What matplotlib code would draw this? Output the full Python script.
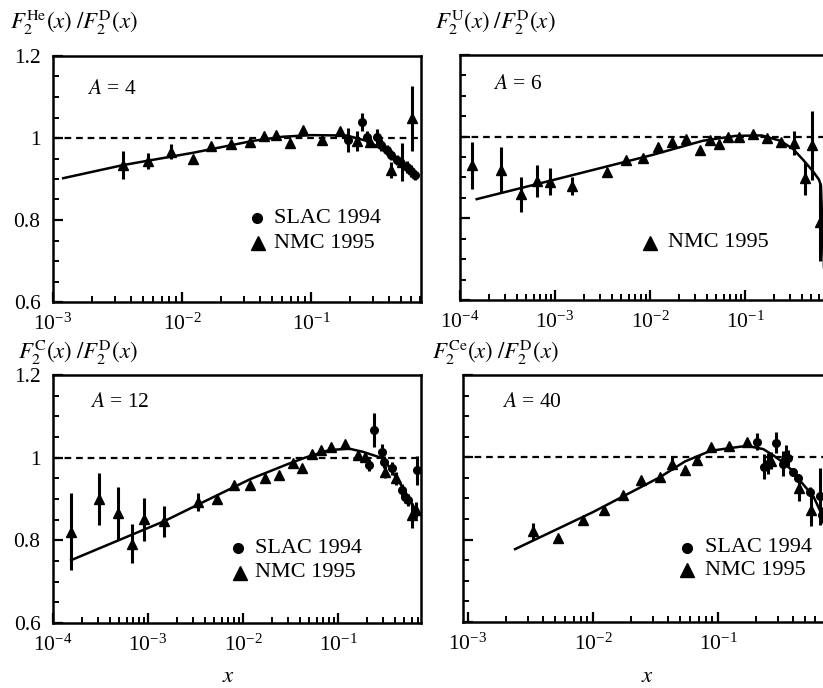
import numpy as np
import matplotlib
matplotlib.use("Agg")
import matplotlib.pyplot as plt
from matplotlib.ticker import LogLocator, FixedLocator, FixedFormatter, MultipleLocator, LogFormatterSciNotation, NullFormatter

plt.rcParams['font.family'] = ['Liberation Serif', 'DejaVu Serif']
plt.rcParams['mathtext.fontset'] = 'stix'

# ---------------- data ----------------
# Panel A=4 (He/D)
he_nmc_x = [0.0035, 0.00545, 0.00826, 0.0122, 0.0169, 0.0241, 0.0338, 0.0432, 0.0532, 0.0687, 0.087, 0.121, 0.168,
            0.226, 0.287, 0.343, 0.42, 0.505, 0.604]
he_nmc_y = [0.934, 0.944, 0.967, 0.950, 0.981, 0.985, 0.991, 1.006, 1.007, 0.989, 1.020, 0.995, 1.017,
            0.993, 0.991, 0.991, 0.922, 0.942, 1.048]
he_nmc_e = [0.034, 0.02, 0.018, 0, 0, 0, 0, 0, 0, 0, 0, 0, 0,
            0.025, 0.012, 0.015, 0.02, 0.047, 0.08]
he_slac_x = [0.195, 0.247, 0.270, 0.323, 0.35, 0.386, 0.42, 0.461, 0.552, 0.60, 0.64]
he_slac_y = [0.995, 1.040, 1.003, 1.003, 0.983, 0.971, 0.959, 0.946, 0.930, 0.920, 0.910]
he_slac_e = [0.03, 0.022, 0.015, 0.02, 0.015, 0.012, 0.012, 0.012, 0.015, 0.015, 0.012]
he_fit_x = [0.0012, 0.0035, 0.0122, 0.0355, 0.06, 0.1, 0.19, 0.27, 0.343, 0.434, 0.55, 0.64]
he_fit_y = [0.902, 0.934, 0.964, 0.993, 1.003, 1.007, 1.006, 0.993, 0.976, 0.954, 0.934, 0.914]

# Panel A=6 (Li/D)
li_nmc_x = [1.35e-4, 2.68e-4, 4.38e-4, 6.41e-4, 8.85e-4, 1.5e-3, 3.56e-3, 5.55e-3, 8.5e-3, 0.0122, 0.0169,
            0.0238, 0.0336, 0.0428, 0.0533, 0.0667, 0.0865, 0.120, 0.169, 0.238, 0.328, 0.428, 0.512, 0.615]
li_nmc_y = [0.930, 0.918, 0.859, 0.892, 0.890, 0.879, 0.914, 0.943, 0.947, 0.975, 0.988,
            0.994, 0.967, 0.991, 0.981, 1.000, 1.000, 1.006, 0.996, 0.988, 0.984, 0.898, 0.979, 0.791]
li_nmc_e = [0.058, 0.057, 0.043, 0.039, 0.033, 0.022, 0, 0, 0, 0, 0,
            0, 0, 0, 0, 0, 0, 0, 0, 0, 0.03, 0.04, 0.085, 0.095]
li_fit_x = [1.5e-4, 1e-3, 0.0105, 0.036, 0.08, 0.15, 0.235, 0.32, 0.41, 0.52, 0.6, 0.63, 0.66, 0.7]
li_fit_y = [0.847, 0.895, 0.955, 0.990, 1.002, 1.003, 0.990, 0.970, 0.943, 0.915, 0.895, 0.880, 0.75, 0.6]

# Panel A=12 (C/D)
c_nmc_x = [1.55e-4, 3.07e-4, 4.86e-4, 6.84e-4, 9.08e-4, 1.47e-3, 3.38e-3, 5.28e-3, 8.04e-3, 0.01185, 0.01706,
           0.0241, 0.0338, 0.0421, 0.0528, 0.0657, 0.0838, 0.1185, 0.1637, 0.192, 0.312, 0.405, 0.597, 0.658]
c_nmc_y = [0.821, 0.901, 0.865, 0.792, 0.851, 0.846, 0.892, 0.901, 0.935, 0.935, 0.952,
           0.958, 0.986, 0.976, 1.010, 1.018, 1.025, 1.032, 1.006, 1.002, 0.966, 0.950, 0.861, 0.873]
c_nmc_e = [0.093, 0.063, 0.065, 0.048, 0.052, 0.038, 0.022, 0, 0, 0, 0,
           0, 0, 0, 0, 0, 0, 0, 0, 0, 0.015, 0.015, 0.03, 0.02]
c_slac_x = [0.213, 0.239, 0.288, 0.305, 0.367, 0.469, 0.507, 0.550, 0.674]
c_slac_y = [0.982, 1.067, 1.014, 0.990, 0.974, 0.922, 0.905, 0.897, 0.970]
c_slac_e = [0.015, 0.04, 0.02, 0.015, 0.015, 0.015, 0.015, 0.015, 0.035]
c_fit_x = [1.55e-4, 1.47e-3, 3.4e-3, 0.0119, 0.03, 0.045, 0.08, 0.13, 0.184, 0.3, 0.45, 0.674]
c_fit_y = [0.752, 0.846, 0.887, 0.948, 0.985, 1.000, 1.018, 1.022, 1.014, 0.998, 0.938, 0.869]

# Panel A=40 (Ca/D)
ca_nmc_x = [3.30e-3, 5.27e-3, 8.36e-3, 0.01225, 0.0173, 0.0242, 0.0344, 0.0431, 0.0544, 0.0675, 0.0874,
            0.1232, 0.1716, 0.264, 0.35, 0.447, 0.555]
ca_nmc_y = [0.820, 0.804, 0.848, 0.871, 0.909, 0.945, 0.953, 0.985, 0.970, 0.993, 1.026,
            1.028, 1.038, 0.992, 1.009, 0.925, 0.872]
ca_nmc_e = [0.02, 0, 0, 0, 0, 0, 0, 0.015, 0, 0, 0,
            0, 0, 0.02, 0.02, 0.03, 0.04]
ca_slac_x = [0.204, 0.233, 0.253, 0.291, 0.33, 0.365, 0.40, 0.439, 0.545, 0.655, 0.676]
ca_slac_y = [1.038, 0.977, 0.985, 1.036, 0.985, 0.998, 0.965, 0.949, 0.917, 0.905, 0.860]
ca_slac_e = [0.02, 0.03, 0.025, 0.025, 0.03, 0.02, 0.01, 0.01, 0.01, 0.07, 0.02]
ca_fit_x = [2.38e-3, 0.01, 0.0344, 0.0544, 0.0874, 0.17, 0.23, 0.276, 0.33, 0.40, 0.46, 0.58, 0.67, 0.72]
ca_fit_y = [0.777, 0.867, 0.952, 0.990, 1.016, 1.028, 1.020, 1.005, 0.988, 0.966, 0.941, 0.905, 0.864, 0.83]

ylabels = [r'$F_2^{\mathrm{He}}(x)\;/F_2^{\mathrm{D}}(x)$', r'$F_2^{\mathrm{U}}(x)\;/F_2^{\mathrm{D}}(x)$',
           r'$F_2^{\mathrm{C}}(x)\;/F_2^{\mathrm{D}}(x)$', r'$F_2^{\mathrm{Ce}}(x)\;/F_2^{\mathrm{D}}(x)$']
a_labels = ['$A$ = 4', '$A$ = 6', '$A$ = 12', '$A$ = 40']
legend_names = ['SLAC 1994', 'NMC 1995']
ytick_vals = [0.6, 0.8, 1.0, 1.2]
ytick_text = ['0.6', '0.8', '1', '1.2']
xmajor_ticks = [1e-4, 1e-3, 1e-2, 1e-1]

# ---------------- figure ----------------
W, H = 823, 688
fig = plt.figure(figsize=(W / 100, H / 100), dpi=100)

def rect(l, t, w, h):
    return [l / W, 1 - (t + h) / H, w / W, h / H]

ax_tl = fig.add_axes(rect(53, 56, 368, 246))
ax_tr = fig.add_axes(rect(460, 55, 380, 245))
ax_bl = fig.add_axes(rect(53, 375, 368, 248))
ax_br = fig.add_axes(rect(463, 375, 380, 247))
axes = [ax_tl, ax_tr, ax_bl, ax_br]
xlims = [(1e-3, 0.713), (1e-4, 1.0), (1e-4, 0.748), (10 ** -3.04, 1.0)]

panels = [
    (he_fit_x, he_fit_y, he_nmc_x, he_nmc_y, he_nmc_e, he_slac_x, he_slac_y, he_slac_e),
    (li_fit_x, li_fit_y, li_nmc_x, li_nmc_y, li_nmc_e, None, None, None),
    (c_fit_x, c_fit_y, c_nmc_x, c_nmc_y, c_nmc_e, c_slac_x, c_slac_y, c_slac_e),
    (ca_fit_x, ca_fit_y, ca_nmc_x, ca_nmc_y, ca_nmc_e, ca_slac_x, ca_slac_y, ca_slac_e),
]

for i, (ax, p) in enumerate(zip(axes, panels)):
    fx, fy, nx, ny, ne, sx, sy, se = p
    ax.set_xscale('log')
    ax.set_xlim(*xlims[i])
    ax.set_ylim(0.6, 1.2)
    ax.axhline(1.0, color='k', lw=1.6, ls=(0, (3, 2.2)), zorder=1)
    ax.plot(fx, fy, color='k', lw=1.8, zorder=2)
    ax.errorbar(nx, ny, yerr=ne, fmt='none', ecolor='k', elinewidth=2.2, capsize=0, zorder=3)
    ax.plot(nx, ny, ls='none', marker='^', ms=7, color='k', zorder=4)
    if sx is not None:
        ax.errorbar(sx, sy, yerr=se, fmt='none', ecolor='k', elinewidth=2.2, capsize=0, zorder=3)
        ax.plot(sx, sy, ls='none', marker='o', ms=5.5, color='k', zorder=4)
    for s in ax.spines.values():
        s.set_linewidth(1.8)
    ax.xaxis.set_major_locator(FixedLocator(xmajor_ticks))
    ax.xaxis.set_minor_locator(LogLocator(base=10, subs=np.arange(2, 10), numticks=10))
    ax.xaxis.set_major_formatter(LogFormatterSciNotation())
    ax.xaxis.set_minor_formatter(NullFormatter())
    ax.yaxis.set_major_locator(FixedLocator(ytick_vals))
    ax.yaxis.set_minor_locator(MultipleLocator(0.05))
    ax.tick_params(which='both', direction='in', top=False, right=False, labelsize=15.5)
    ax.tick_params(which='major', length=7, width=1.6)
    ax.tick_params(which='minor', length=4, width=1.4)
    ax.tick_params(axis='x', pad=8)
    ax.tick_params(axis='y', pad=9)
    ax.set_xlim(*xlims[i])
    if i in (0, 2):
        ax.yaxis.set_major_formatter(FixedFormatter(ytick_text))
    else:
        ax.tick_params(axis='y', labelleft=False)

# A labels
a_pos = [(0.092, 0.862), (0.087, 0.878), (0.10, 0.891), (0.103, 0.89)]
for ax, lab, (px, py) in zip(axes, a_labels, a_pos):
    ax.text(px, py, lab, transform=ax.transAxes, fontsize=15.5, ha='left', va='center')

# legends
def legend(ax, items):
    for marker, ms, mx, tx, y, name in items:
        ax.plot([mx], [y], marker=marker, ms=ms, color='k', transform=ax.transAxes, clip_on=False)
        ax.text(tx, y, name, transform=ax.transAxes, fontsize=16, ha='left', va='center')

legend(ax_tl, [('o', 7, 0.554, 0.60, 0.341, legend_names[0]), ('^', 10, 0.556, 0.60, 0.238, legend_names[1])])
legend(ax_tr, [('^', 10, 0.50, 0.547, 0.233, legend_names[1])])
legend(ax_bl, [('o', 7, 0.503, 0.549, 0.302, legend_names[0]), ('^', 10, 0.508, 0.549, 0.202, legend_names[1])])
legend(ax_br, [('o', 7, 0.589, 0.637, 0.30, legend_names[0]), ('^', 10, 0.589, 0.637, 0.21, legend_names[1])])

# panel titles (y quantity) above each panel
title_pos = [(10, 22), (435, 22), (18, 352), (432, 352)]
for lab, (px, py) in zip(ylabels, title_pos):
    fig.text(px / W, 1 - py / H, lab, fontsize=16.5, ha='left', va='center')

# x labels
for px in (228, 647):
    fig.text(px / W, 1 - 676 / H, '$x$', fontsize=16.5, ha='center', va='center')

fig.savefig('out.png', dpi=100)
